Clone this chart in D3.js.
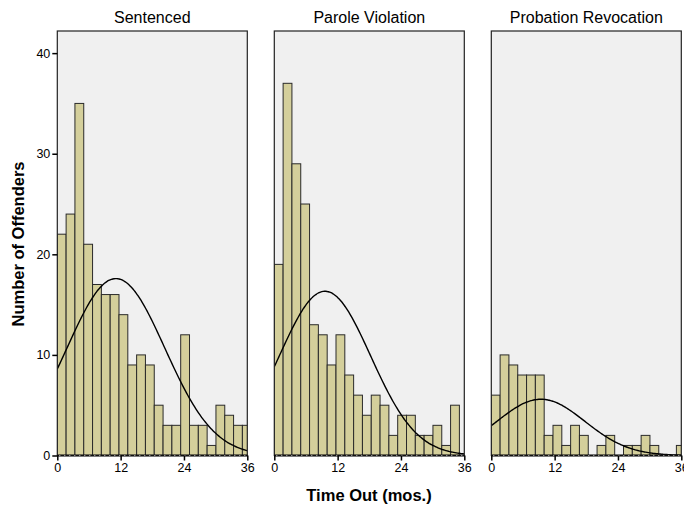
<!DOCTYPE html>
<html>
<head>
<meta charset="utf-8">
<script src="https://cdn.jsdelivr.net/npm/d3@7"></script>
<style>
  html, body { margin: 0; padding: 0; background: #fff; }
  svg { display: block; }
  text { font-family: "Liberation Sans", Arial, sans-serif; fill: #000; }
</style>
</head>
<body>
<svg id="chart" width="684" height="507"></svg>
<script>
// Panels (release type) and histogram counts per 1.67-month bin
const panels = ["Sentenced", "Parole Violation", "Probation Revocation"];
const binWidth = 1.67;
const sentencedCounts = [22, 24, 35, 21, 17, 16, 16, 14, 9, 10, 9, 5, 3, 3, 12, 3, 3, 1, 5, 4, 3, 3];
const paroleCounts = [19, 37, 29, 25, 13, 12, 9, 12, 8, 6, 4, 6, 5, 2, 4, 4, 2, 2, 3, 1, 5, 0];
const probationCounts = [6, 10, 9, 8, 8, 8, 2, 3, 1, 3, 2, 0, 1, 2, 0, 1, 1, 2, 1, 0, 0, 1];
// Fitted normal curve parameters per panel
const curveMean = [11.1, 9.6, 9.4];
const curveSD = [9.28, 8.65, 8.34];
const curveN = [245, 212, 70];
const xTicks = [0, 12, 24, 36];
const yTicks = [0, 10, 20, 30, 40];

const countsByPanel = [sentencedCounts, paroleCounts, probationCounts];

const svg = d3.select("#chart");
const panelW = 190;
const plotTop = 31, plotBottom = 455.5;
const panelLeft = d3.scalePoint().domain(panels).range([57.3, 491.3]);

const y = d3.scaleLinear().domain([0, 42.2]).range([plotBottom, plotTop]);

panels.forEach((name, pi) => {
  const left = panelLeft(name);
  const x = d3.scaleLinear().domain([0, 36]).range([left, left + panelW]);
  const g = svg.append("g");

  g.append("defs").append("clipPath").attr("id", "clip" + pi)
    .append("rect").attr("x", left).attr("y", plotTop)
    .attr("width", panelW).attr("height", plotBottom - plotTop);

  // panel background
  g.append("rect").attr("x", left).attr("y", plotTop)
    .attr("width", panelW).attr("height", plotBottom - plotTop)
    .attr("fill", "#f0f0f0");

  const plot = g.append("g").attr("clip-path", `url(#clip${pi})`);

  // histogram bars
  plot.selectAll("rect.bar")
    .data(countsByPanel[pi].map((c, i) => ({ c, i })).filter(d => d.c > 0))
    .join("rect")
    .attr("class", "bar")
    .attr("x", d => x(d.i * binWidth))
    .attr("width", d => x((d.i + 1) * binWidth) - x(d.i * binWidth))
    .attr("y", d => y(d.c))
    .attr("height", d => y(0) - y(d.c))
    .attr("fill", "#d4cf9b")
    .attr("stroke", "#2a2a2a")
    .attr("stroke-width", 1);

  // normal curve
  const m = curveMean[pi], s = curveSD[pi], n = curveN[pi];
  const pdf = t => n * binWidth / (s * Math.sqrt(2 * Math.PI)) * Math.exp(-((t - m) ** 2) / (2 * s * s));
  const pts = d3.range(0, 36.01, 0.25);
  plot.append("path")
    .datum(pts)
    .attr("fill", "none")
    .attr("stroke", "#000")
    .attr("stroke-width", 1.4)
    .attr("d", d3.line().x(t => x(t)).y(t => y(pdf(t))).curve(d3.curveBasis));

  // panel frame
  g.append("rect").attr("x", left).attr("y", plotTop)
    .attr("width", panelW).attr("height", plotBottom - plotTop)
    .attr("fill", "none").attr("stroke", "#222").attr("stroke-width", 1.2);

  // bottom axis line with dotted look
  g.append("line").attr("x1", left).attr("x2", left + panelW)
    .attr("y1", plotBottom).attr("y2", plotBottom)
    .attr("stroke", "#111").attr("stroke-width", 2);
  g.append("line").attr("x1", left + 2).attr("x2", left + panelW)
    .attr("y1", plotBottom).attr("y2", plotBottom)
    .attr("stroke", "#bbb").attr("stroke-width", 1)
    .attr("stroke-dasharray", "1,4");

  // x axis
  const xAxis = d3.axisBottom(x).tickValues(xTicks).tickSize(5).tickPadding(3).tickFormat(d3.format("d"));
  const xa = g.append("g").attr("transform", `translate(0,${plotBottom})`).call(xAxis);
  xa.select(".domain").remove();
  xa.selectAll(".tick line").attr("stroke", "#000").attr("stroke-width", 1.5);
  xa.selectAll(".tick text").attr("font-size", 12.5).attr("font-family", "Liberation Sans, Arial, sans-serif").attr("fill", "#000");

  // panel title
  g.append("text").attr("x", left + panelW / 2).attr("y", 23)
    .attr("text-anchor", "middle").attr("font-size", 16).text(name);

  if (pi === 0) {
    const yAxis = d3.axisLeft(y).tickValues(yTicks).tickSize(5).tickPadding(2).tickFormat(d3.format("d"));
    const ya = g.append("g").attr("transform", `translate(${left},0)`).call(yAxis);
    ya.select(".domain").remove();
    ya.selectAll(".tick line").attr("stroke", "#000").attr("stroke-width", 1.5);
    ya.selectAll(".tick text").attr("font-size", 12.5).attr("font-family", "Liberation Sans, Arial, sans-serif").attr("fill", "#000");
  }
});

// axis titles
svg.append("text").attr("x", 369).attr("y", 501)
  .attr("text-anchor", "middle").attr("font-size", 16.5).attr("font-weight", "bold")
  .text("Time Out (mos.)");
svg.append("text")
  .attr("transform", "translate(24,244) rotate(-90)")
  .attr("text-anchor", "middle").attr("font-size", 16.5).attr("font-weight", "bold")
  .text("Number of Offenders");
</script>
</body>
</html>
